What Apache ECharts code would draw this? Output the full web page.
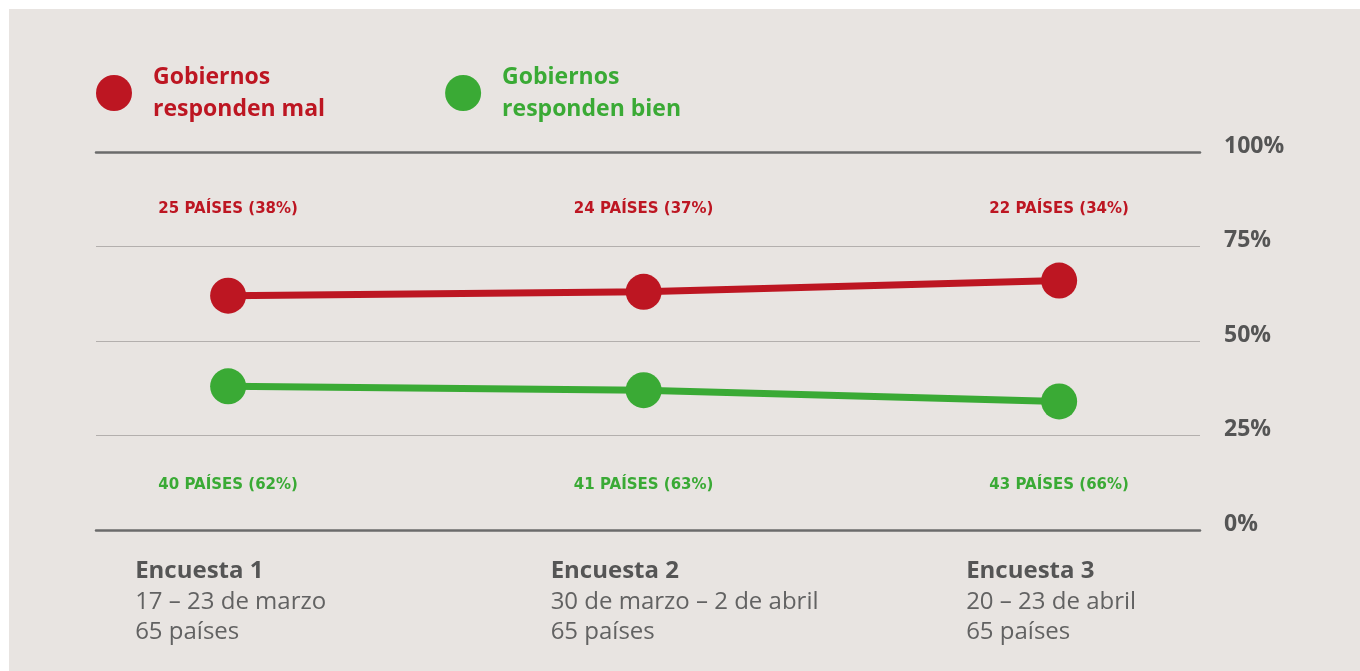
<!DOCTYPE html>
<html>
<head>
<meta charset="utf-8">
<script src="https://cdn.jsdelivr.net/npm/echarts@6/dist/echarts.min.js"></script>
<style>
  html, body { margin: 0; padding: 0; background: #fff; }
  #chart {
    width: 1360px;
    height: 671px;
    background: #e8e4e1;
    box-shadow: inset 9px 9px 0 #fff;
  }
</style>
</head>
<body>
<div id="chart"></div>
<script>
const surveys = ['Encuesta 1', 'Encuesta 2', 'Encuesta 3']
const surveyDates = ['17 – 23 de marzo', '30 de marzo – 2 de abril', '20 – 23 de abril']
const surveyCountries = ['65 países', '65 países', '65 países']

const badValues = [62, 63, 66]
const goodValues = [38, 37, 34]
const badLabels = ['25 PAÍSES (38%)', '24 PAÍSES (37%)', '22 PAÍSES (34%)']
const goodLabels = ['40 PAÍSES (62%)', '41 PAÍSES (63%)', '43 PAÍSES (66%)']

const yTicks = [0, 25, 50, 75, 100]

const RED = '#bd1622'
const GREEN = '#3aaa35'
const GREY = '#555555'
const FONT = '"Open Sans", sans-serif'

const chart = echarts.init(document.getElementById('chart'))

const pts = vals => vals.map((v, i) => [i, v])

const labelSeries = (name, texts, yPos, color) => ({
  name,
  type: 'scatter',
  symbolSize: 1,
  itemStyle: { color: 'transparent', opacity: 1 },
  silent: true,
  data: texts.map((t, i) => ({ value: [i, yPos], name: t })),
  label: {
    show: true,
    position: 'inside',
    formatter: p => p.name,
    color,
    fontFamily: '"DejaVu Sans", sans-serif',
    fontWeight: 'bold',
    fontSize: 15
  }
})

chart.setOption({
  animation: false,
  textStyle: { fontFamily: FONT },
  legend: {
    left: 96,
    top: 61,
    padding: 0,
    itemWidth: 36,
    itemHeight: 36,
    itemGap: 120,
    icon: 'circle',
    selectedMode: false,
    textStyle: {
      fontFamily: FONT,
      fontSize: 23,
      fontWeight: 'bold',
      lineHeight: 32,
      padding: [0, 0, 0, 16]
    },
    data: [
      { name: 'Gobiernos\nresponden mal', textStyle: { color: RED } },
      { name: 'Gobiernos\nresponden bien', textStyle: { color: GREEN } }
    ]
  },
  grid: { left: 96, right: 160, top: 152, bottom: 141 },
  xAxis: [
    {
      type: 'value',
      min: -0.318,
      max: 2.339,
      position: 'bottom',
      axisLine: { show: true, lineStyle: { color: '#6b6b6b', width: 2.5 } },
      axisTick: { show: false },
      axisLabel: { show: false },
      splitLine: { show: false }
    },
    {
      type: 'value',
      min: -0.318,
      max: 2.339,
      position: 'top',
      axisLine: { show: true, lineStyle: { color: '#6b6b6b', width: 2.5 } },
      axisTick: { show: false },
      axisLabel: { show: false },
      splitLine: { show: false }
    }
  ],
  yAxis: {
    type: 'value',
    position: 'right',
    min: yTicks[0],
    max: yTicks[yTicks.length - 1],
    interval: 25,
    axisLine: { show: false },
    axisTick: { show: false },
    splitLine: { show: true, lineStyle: { color: '#b3afad', width: 1 } },
    axisLabel: {
      margin: 24,
      align: 'left',
      verticalAlign: 'bottom',
      lineHeight: 12,
      color: GREY,
      fontFamily: FONT,
      fontWeight: 'bold',
      fontSize: 23,
      formatter: v => v + '%'
    }
  },
  series: [
    {
      name: 'Gobiernos\nresponden mal',
      type: 'line',
      data: pts(badValues),
      symbol: 'circle',
      symbolSize: 36,
      lineStyle: { width: 7, color: RED },
      itemStyle: { color: RED },
      z: 5
    },
    {
      name: 'Gobiernos\nresponden bien',
      type: 'line',
      data: pts(goodValues),
      symbol: 'circle',
      symbolSize: 36,
      lineStyle: { width: 7, color: GREEN },
      itemStyle: { color: GREEN },
      z: 5
    },
    labelSeries('badLabels', badLabels, 84.9, RED),
    labelSeries('goodLabels', goodLabels, 11.9, GREEN),
    {
      name: 'surveys',
      type: 'scatter',
      symbolSize: 1,
      itemStyle: { color: 'transparent', opacity: 1 },
      silent: true,
      data: surveys.map((s, i) => ({ value: [i, 0], name: s })),
      label: {
        show: true,
        position: 'inside',
        align: 'left',
        verticalAlign: 'middle',
        offset: [-93, 71],
        formatter: p => {
          const i = p.dataIndex
          return '{b|' + surveys[i] + '}\n{r|' + surveyDates[i] + '}\n{r|' + surveyCountries[i] + '}'
        },
        rich: {
          b: { fontFamily: FONT, fontWeight: 'bold', fontSize: 24, color: GREY, lineHeight: 32 },
          r: { fontFamily: FONT, fontSize: 24, color: '#626262', lineHeight: 30 }
        }
      }
    }
  ]
})
</script>
</body>
</html>
